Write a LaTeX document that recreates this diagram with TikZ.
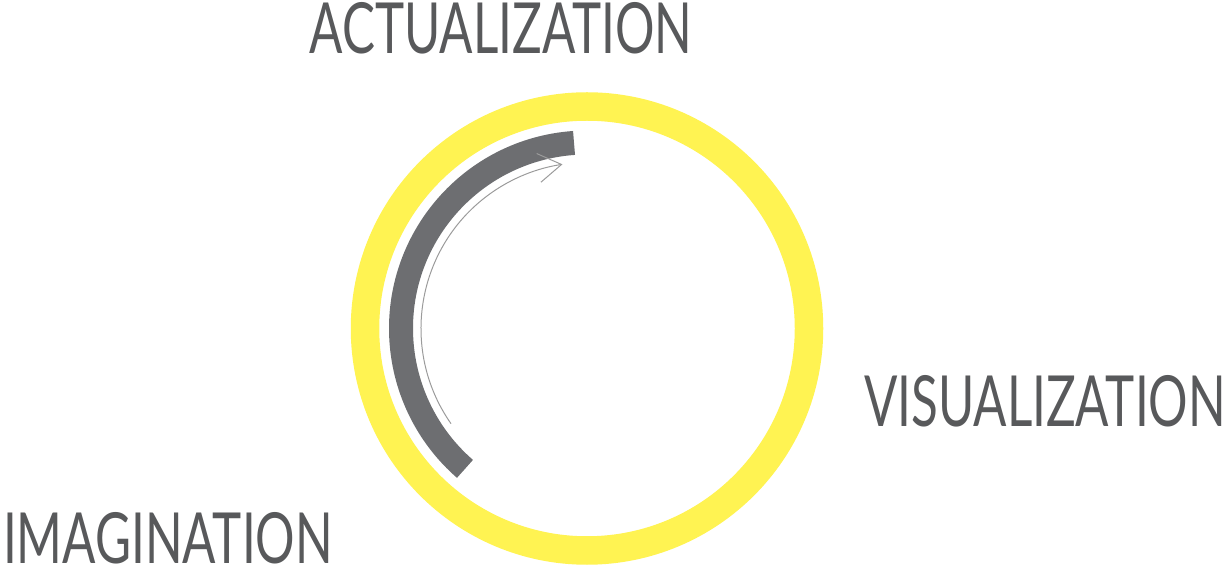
\documentclass[tikz,border=0pt]{standalone}
\usepackage{fontspec}
\setmainfont[FakeStretch=0.70]{Lato}
\usepackage{xcolor}
\usepackage{tikz}
\usetikzlibrary{arrows.meta}
\definecolor{ringyellow}{HTML}{FFF352}
\definecolor{bargray}{HTML}{6D6E71}
\definecolor{flowgray}{HTML}{9B9B9B}
\definecolor{textgray}{HTML}{58595B}
\tikzstyle{ring} = [draw=ringyellow, line width=28.5pt]
\tikzstyle{bar} = [draw=bargray, line width=24pt]
\tikzstyle{flow} = [draw=flowgray, line width=1pt,
    -{Straight Barb[length=23pt, width=29pt]}]
\tikzstyle{stage} = [text=textgray, inner sep=0pt, anchor=base,
    text depth=0pt, font=\fontsize{70.5}{70.5}\selectfont]

\begin{document}
\begin{tikzpicture}[x=1pt, y=1pt]
  \useasboundingbox (0,0) rectangle (1230,567);
  \coordinate (hub) at (587,238.5);

  % Circle and progress bar
  \draw [ring] (hub) circle [radius=222pt];
  \draw [bar] ([shift={(94:186pt)}]hub)
    arc [start angle=94, end angle=229, radius=186pt];
  \draw [flow] ([shift={(215:166pt)}]hub)
    arc [start angle=215, end angle=98.5, radius=166pt];

  % Place labels
  \node [stage] (actual) at (501,513) {ACTUALIZATION};
  \node [stage] (visual) at (1045,140.3) {VISUALIZATION};
  \node [stage] (imagine) at (168,4) {IMAGINATION};
\end{tikzpicture}
\end{document}
